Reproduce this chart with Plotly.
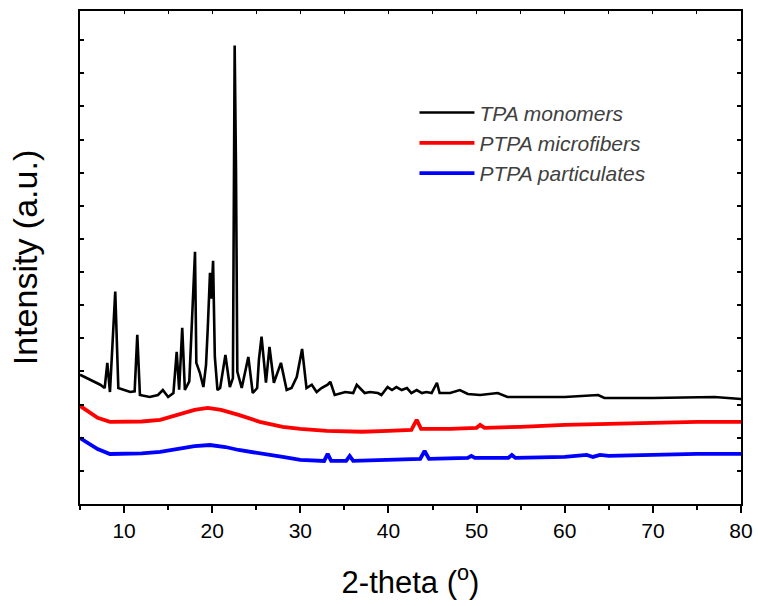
import plotly.graph_objects as go

# ---- data (2-theta in degrees, intensity in a.u.) ----
tpa_x = [5.0, 6.1, 7.3, 7.8, 8.1, 8.4, 9.0, 9.35, 10.7, 11.2, 11.5, 11.8, 12.9, 13.85, 14.4, 15.0,
         15.6, 15.97, 16.25, 16.6, 16.9, 17.4, 18.05, 18.2, 18.6, 19.0, 19.3, 19.5, 19.75, 19.9,
         20.1, 20.3, 20.6, 20.9, 21.5, 22.0, 22.35, 22.55, 22.62, 22.7, 22.85, 23.35, 24.1, 24.6,
         25.1, 25.3, 25.6, 26.1, 26.5, 27.0, 27.8, 28.45, 29.0, 29.6, 30.2, 30.7, 31.3, 31.85,
         32.4, 33.1, 33.4, 33.9, 35.1, 36.0, 36.4, 37.3, 37.9, 38.8, 39.2, 39.9, 40.4, 40.9,
         41.5, 42.1, 42.6, 43.2, 43.8, 44.3, 44.9, 45.5, 45.8, 47.0, 48.1, 49.0, 50.4, 52.4,
         53.5, 60.0, 63.8, 64.5, 70.0, 77.0, 80.0]
tpa_y = [390, 375, 360, 350, 426, 338, 641, 350, 338, 340, 511, 329, 323, 329, 344, 323,
         335, 459, 345, 532, 344, 370, 761, 426, 396, 353, 420, 532, 698, 620,
         734, 444, 344, 350, 450, 353, 380, 1384, 1030, 1010, 400, 350, 444, 335,
         350, 435, 505, 366, 474, 366, 426, 344, 350, 384, 468, 350, 360, 338,
         350, 360, 369, 329, 338, 335, 360, 335, 338, 335, 329, 353, 344, 353,
         344, 350, 335, 344, 335, 338, 335, 366, 335, 335, 344, 332, 329, 335,
         323, 323, 329, 320, 320, 323, 317]

fib_x = [5.0, 6.0, 7.0, 8.4, 10.0, 12.0, 14.1, 16.0, 18.0, 19.5, 21.0, 23.0, 25.4, 28.0, 30.0,
         33.0, 37.0, 40.0, 42.6, 43.2, 43.7, 47.0, 50.0, 50.4, 50.9, 55.0, 60.0, 65.0, 70.0,
         75.0, 80.0]
fib_y = [296, 278, 260, 248, 248, 249, 254, 269, 284, 290, 284, 269, 248, 233, 227,
         221, 218, 221, 224, 254, 227, 227, 230, 239, 230, 233, 239, 242, 245,
         248, 248]

par_x = [5.0, 6.0, 7.0, 8.4, 10.0, 12.0, 14.1, 16.0, 18.0, 19.75, 21.5, 23.0, 25.4, 28.0, 30.0,
         32.7, 33.1, 33.5, 35.2, 35.6, 36.0, 40.0, 43.6, 44.1, 44.6, 49.0, 49.4, 49.8, 53.6,
         54.0, 54.4, 60.0, 62.5, 63.2, 64.0, 65.0, 70.0, 75.0, 80.0]
par_y = [199, 184, 166, 151, 151, 153, 157, 166, 175, 178, 172, 163, 154, 142, 133,
         130, 151, 130, 130, 145, 130, 133, 136, 160, 136, 139, 145, 139, 139,
         148, 139, 142, 148, 142, 148, 145, 148, 151, 151]

series_names = ["TPA monomers", "PTPA microfibers", "PTPA particulates"]
series_colors = ["#000000", "#ff0000", "#0000ff"]

fig = go.Figure()
for xs, ys, name, col, w in [(tpa_x, tpa_y, series_names[0], series_colors[0], 2.6),
                             (fib_x, fib_y, series_names[1], series_colors[1], 3.8),
                             (par_x, par_y, series_names[2], series_colors[2], 3.8)]:
    fig.add_trace(go.Scatter(x=xs, y=ys, mode="lines", name=name,
                             line=dict(color=col, width=w)))

fig.add_trace(go.Scatter(x=[5, 80], y=[None, None], xaxis="x2", showlegend=False,
                         hoverinfo="skip"))

font_main = "Liberation Sans, Arial, sans-serif"

fig.update_layout(
    width=758, height=606,
    margin=dict(l=80, r=17, t=11, b=102),
    paper_bgcolor="white", plot_bgcolor="white",
    font=dict(family=font_main, color="black", size=20),
    showlegend=True,
    legend=dict(x=0.506, y=0.835, xanchor="left", yanchor="top",
                bgcolor="rgba(0,0,0,0)", itemwidth=55, tracegroupgap=0,
                font=dict(family=font_main, size=21,
                          color="#404040", style="italic")),
    xaxis=dict(range=[5, 80], dtick=10, tick0=0, ticks="outside", ticklen=7, tickwidth=2,
               tickcolor="black", showline=True, linecolor="black", linewidth=2,
               showgrid=False, zeroline=False, automargin=False,
               minor=dict(dtick=5, tick0=0, ticks="outside", ticklen=4, tickwidth=2,
                          tickcolor="black", showgrid=False),
               tickfont=dict(size=21),
               title=dict(text="2-theta (<sup>o</sup>)", font=dict(size=31), standoff=30)),
    xaxis2=dict(range=[5, 80], overlaying="x", side="top", dtick=5, tick0=0,
                ticks="inside", ticklen=3, tickwidth=1, tickcolor="black",
                showticklabels=False, showline=True, linecolor="black", linewidth=2,
                showgrid=False, zeroline=False, automargin=False),
    yaxis=dict(range=[0, 1488], dtick=100, tick0=0, ticks="inside", ticklen=4, tickwidth=2,
               tickcolor="black", showticklabels=False, showline=True, mirror="ticks",
               linecolor="black", linewidth=2, showgrid=False, zeroline=False,
               automargin=False,
               title=dict(text="Intensity (a.u.)", font=dict(size=34), standoff=30)),
)

fig.write_html("out.html")
